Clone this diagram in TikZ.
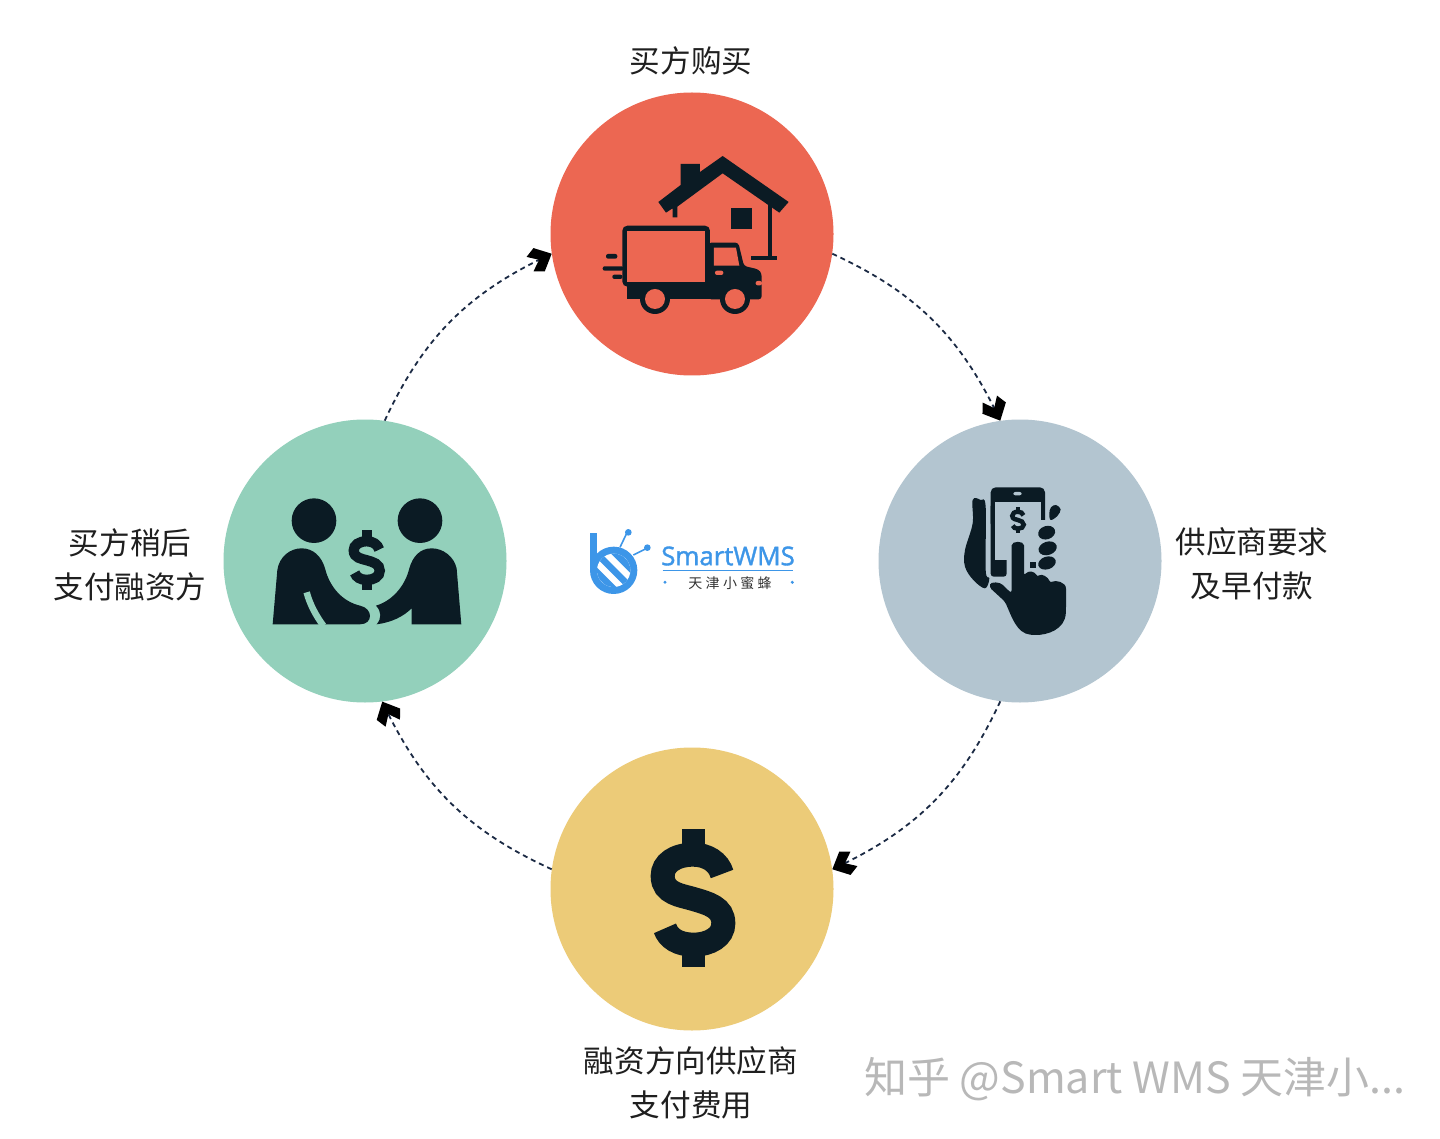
\documentclass[tikz,border=0pt]{standalone}
\usepackage{fontspec}
\newfontfamily\cjk{Noto Sans CJK SC}
\newfontfamily\logofont[FakeBold=1.4]{Open Sans}
\usetikzlibrary{arrows.meta,bending}
\definecolor{coral}{HTML}{EC6752}
\definecolor{steel}{HTML}{B3C5D0}
\definecolor{mint}{HTML}{93D0BB}
\definecolor{sand}{HTML}{ECCB78}
\definecolor{ink}{HTML}{0B1B24}
\definecolor{navy}{HTML}{1B2A44}
\definecolor{logoblue}{HTML}{3D96E8}
\pgfdeclarearrow{
  name=Chev,
  setup code={
    \pgfarrowssettipend{0pt}
    \pgfarrowssetlineend{-14pt}
    \pgfarrowssetvisualbackend{-14pt}
    \pgfarrowssetbackend{-24pt}
    \pgfarrowshullpoint{0pt}{0pt}
    \pgfarrowshullpoint{-14pt}{13pt}
    \pgfarrowshullpoint{-24pt}{8pt}
    \pgfarrowshullpoint{-24pt}{-8pt}
    \pgfarrowshullpoint{-14pt}{-13pt}
  },
  drawing code={
    \pgfsetdash{}{0pt}
    \pgfpathmoveto{\pgfqpoint{0pt}{0pt}}
    \pgfpathlineto{\pgfqpoint{-14pt}{13pt}}
    \pgfpathlineto{\pgfqpoint{-24pt}{8pt}}
    \pgfpathlineto{\pgfqpoint{-14pt}{0pt}}
    \pgfpathlineto{\pgfqpoint{-24pt}{-8pt}}
    \pgfpathlineto{\pgfqpoint{-14pt}{-13pt}}
    \pgfpathclose
    \pgfusepathqfill
  }
}
\newcommand\dollarmark[4]{%
\begin{scope}[shift={(#1,#2)},x=#3 pt,y=-#3 pt]
\fill[ink] (125,28) rectangle (195,80);
\fill[ink] (125,395) rectangle (195,442);
\draw[ink,line width=72*#3 pt,line cap=butt,#4] (246,162) .. controls (236,125) and (200,104) .. (160,104) .. controls (105,104) and (68,130) .. (68,168) .. controls (68,222) and (125,226) .. (160,237) .. controls (205,250) and (250,262) .. (250,310) .. controls (250,350) and (210,374) .. (160,374) .. controls (115,374) and (85,355) .. (75,325);
\end{scope}}
\tikzset{
 disc/.style={circle,minimum size=283pt,inner sep=0pt,draw=none,fill=#1},
 caption/.style={font=\cjk\fontsize{30.6}{44}\selectfont,text=black!88,align=center,inner sep=0pt},
 flow/.style={draw=navy,line width=1.8pt,dash pattern=on 5pt off 4pt,-{Chev[color=black]}},
}
\begin{document}
\begin{tikzpicture}[x=1pt,y=-1pt]
\useasboundingbox[fill=white] (0,0) rectangle (1440,1139);
\node[disc=coral] (buy) at (692,234) {};
\node[disc=steel] (supplier) at (1020,561) {};
\node[disc=sand] (fund) at (692,889) {};
\node[disc=mint] (later) at (365,561) {};
\draw[flow] (buy.-8) to[bend left=20] (supplier.98);
\draw[flow] (supplier.-98) to[bend left=20] (fund.8);
\draw[flow] (fund.172) to[bend left=20] (later.-83);
\draw[flow] (later.82) to[bend left=20] (buy.188);
\node[caption] (t1) at (691,61) {买方购买};
\node[caption] (t2) at (1252,564) {供应商要求\\及早付款};
\node[caption] (t3) at (691,1083) {融资方向供应商\\支付费用};
\node[caption] (t4) at (130,565) {买方稍后\\支付融资方};
% truck + house
\begin{scope}[shift={(590,140)},x=0.3333pt,y=-0.3333pt]
\fill[ink] (205,186) -- (272,135) -- (272,72) -- (330,72) -- (330,96) -- (398,48) -- (596,186) -- (568,218) -- (398,100) -- (262,200) -- (262,232) -- (248,232) -- (248,205) -- (228,218) -- cycle;
\fill[ink] (423,203) rectangle (487,267);
\fill[ink] (533,195) rectangle (546,347);
\fill[ink] (484,347) rectangle (562,360);
\fill[ink,rounded corners=5pt] (97,257) rectangle (360,440);
\fill[coral] (111,272) rectangle (346,425);
\fill[ink] (110,425) rectangle (360,478);
\fill[ink,rounded corners=3pt] (355,308) -- (445,308) -- (462,378) -- (505,388) -- (515,400) -- (515,478) -- (355,478) -- cycle;
\fill[coral] (372,323) -- (438,323) -- (448,377) -- (372,377) -- cycle;
\fill[coral,rounded corners=2pt] (375,392) rectangle (400,405);
\fill[coral,rounded corners=2pt] (497,423) rectangle (516,436);
\fill[ink] (195,477) circle[radius=45];
\fill[coral] (195,477) circle[radius=30];
\fill[ink] (435,477) circle[radius=45];
\fill[coral] (435,477) circle[radius=30];
\fill[ink,rounded corners=2pt] (48,342) rectangle (82,356);
\fill[ink,rounded corners=2pt] (38,379) rectangle (100,392);
\fill[ink,rounded corners=2pt] (67,404) rectangle (97,417);
\end{scope}
% phone + hand
\begin{scope}[shift={(950,470)},x=0.3333pt,y=-0.3333pt]
\fill[ink,rounded corners=5pt] (122,52) rectangle (285,175);
\fill[ink,rounded corners=3pt] (122,100) rectangle (170,320);
\fill[steel] (135,95) rectangle (272,270);
\fill[steel,rounded corners=2pt] (190,66) rectangle (215,76);
\fill[ink] (240,275) rectangle (258,293);
\fill[steel] (262,150) rectangle (290,180);
\fill[ink] plot[smooth cycle,tension=0.6] coordinates {(68,90) (92,90) (107,110) (107,300) (118,325) (105,355) (70,330) (45,290) (45,240) (68,160)};
\fill[ink,shift={(290,188)},rotate=18] (0,0) ellipse[x radius=26,y radius=20];
\fill[ink,shift={(293,235)},rotate=18] (0,0) ellipse[x radius=28,y radius=20];
\fill[ink,shift={(291,279)},rotate=18] (0,0) ellipse[x radius=27,y radius=19];
\fill[ink] plot[smooth cycle,tension=0.6] coordinates {(303,112) (318,105) (332,118) (322,138) (302,150) (298,130)};
\fill[ink,rounded corners=3pt] (185,370) -- (185,235) .. controls (185,212) and (222,212) .. (222,235) -- (222,318) .. controls (235,300) and (255,305) .. (262,322) .. controls (275,310) and (295,322) .. (300,340) .. controls (315,330) and (348,335) .. (348,365) -- (348,420) .. controls (345,480) and (290,495) .. (250,495) .. controls (200,490) and (185,440) .. (165,395) -- (118,352) .. controls (122,335) and (150,335) .. (165,352) -- cycle;
\end{scope}
\dollarmark{1008}{505.2}{0.0628}{}
% handshake
\begin{scope}[shift={(260,485)},x=0.3333pt,y=-0.3333pt]
\fill[ink] (162,107) circle[radius=67];
\fill[ink] (480,107) circle[radius=67];
\fill[ink] (38,418) -- (52,255) .. controls (58,215) and (90,190) .. (125,190) .. controls (160,190) and (185,215) .. (195,250) .. controls (210,310) and (250,350) .. (300,362) .. controls (340,370) and (340,418) .. (300,418) -- cycle;
\draw[mint,line width=6.5pt] (140,322) .. controls (150,360) and (170,395) .. (190,422);
\fill[ink] (604,418) -- (590,250) .. controls (582,215) and (550,190) .. (515,190) .. controls (480,190) and (458,215) .. (448,250) .. controls (435,305) and (395,348) .. (348,362) .. controls (365,380) and (365,400) .. (350,418) .. controls (395,412) and (430,395) .. (455,370) -- (455,418) -- cycle;
\end{scope}
\dollarmark{344}{526.4}{0.143}{}
\dollarmark{640}{820}{0.3333}{}
% logo
\begin{scope}[shift={(580,520)},x=0.3333pt,y=-0.3333pt]
\fill[logoblue] (101,151) circle[radius=71];
\fill[logoblue] (30,38) rectangle (52,150);
\fill[white] (101,151) circle[radius=50];
\begin{scope}
\clip (101,151) circle[radius=50];
\draw[logoblue,line width=6.5pt] (61,111) -- (141,191);
\draw[logoblue,line width=6.5pt] (85,79) -- (173,167);
\draw[logoblue,line width=6.5pt] (29,135) -- (117,223);
\end{scope}
\draw[logoblue,line width=1.6pt] (120,82) -- (140,40);
\fill[logoblue] (145,37) circle[radius=10];
\draw[logoblue,line width=1.6pt] (160,105) -- (200,85);
\fill[logoblue] (202,83) circle[radius=10];
\draw[logoblue,line width=0.8pt] (248,152) -- (640,152);
\fill[logoblue] (255,187) circle[radius=5];
\fill[logoblue] (637,187) circle[radius=5];
\end{scope}
\node[inner sep=0pt,text=logoblue,font=\logofont\fontsize{25.8}{28}\selectfont] (brand) at (728,556) {SmartWMS};
\node[inner sep=0pt,text=black!80,font=\cjk\fontsize{14}{16}\selectfont] (brandcn) at (730,583) {天\hspace{3.3pt}津\hspace{3.3pt}小\hspace{3.3pt}蜜\hspace{3.3pt}蜂};
\node[inner sep=0pt,anchor=west,text=black!28,font=\cjk\fontsize{43}{46}\selectfont] (mark) at (864,1079) {知乎 @Smart WMS 天津小...};
\end{tikzpicture}
\end{document}
